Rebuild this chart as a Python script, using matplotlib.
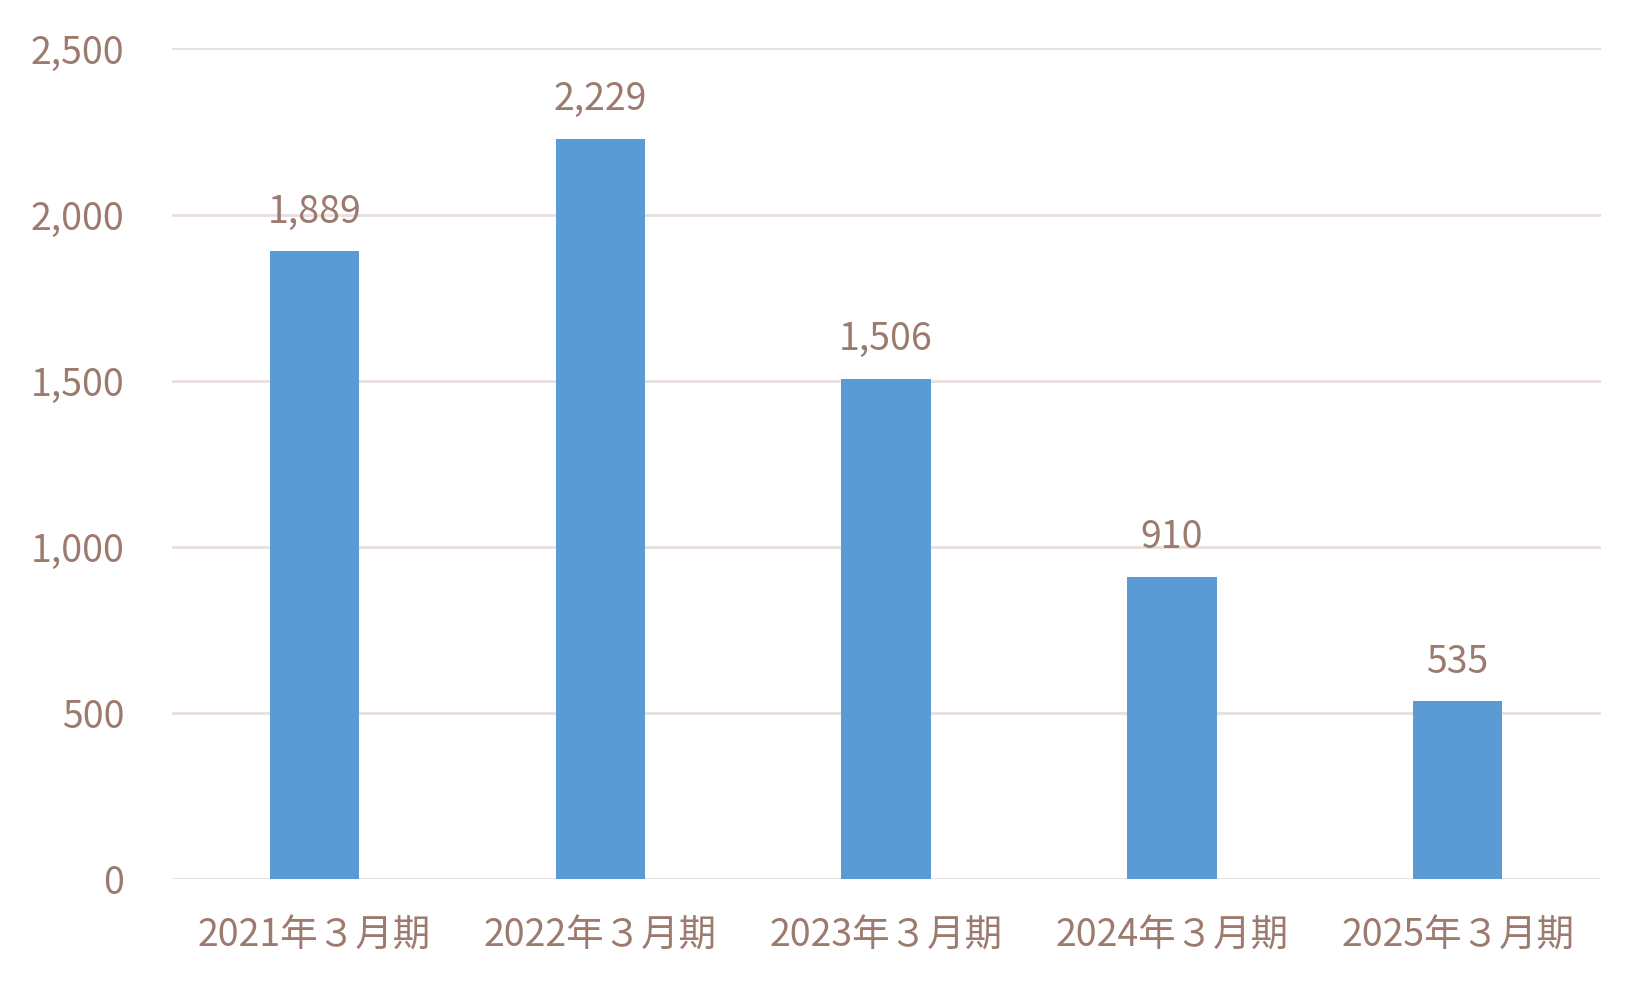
import matplotlib
matplotlib.use('Agg')
import matplotlib.pyplot as plt
from matplotlib.ticker import FuncFormatter

plt.rcParams['font.family'] = ['Noto Sans CJK JP', 'DejaVu Sans']

# data
periods = ['2021年３月期', '2022年３月期', '2023年３月期', '2024年３月期', '2025年３月期']
values = [1889, 2229, 1506, 910, 535]

text_color = '#9C7B6E'
bar_color = '#5B9BD5'
grid_color = '#E8DFDF'

fig = plt.figure(figsize=(16.5, 9.89), dpi=100)
ax = fig.add_axes([0.104, 0.111, 0.866, 0.840])

x = range(len(periods))
bars = ax.bar(x, values, width=0.313, color=bar_color, zorder=3)

# data labels above bars
for xi, v in zip(x, values):
    ax.annotate(f'{v:,}', (xi, v), xytext=(0, 14), textcoords='offset points',
                ha='center', va='bottom', fontsize=27, color=text_color)

ax.set_xlim(-0.5, len(periods) - 0.5)
ax.set_ylim(0, 2500)
ax.set_yticks([0, 500, 1000, 1500, 2000, 2500])
ax.yaxis.set_major_formatter(FuncFormatter(lambda v, p: f'{int(v):,}'))
ax.set_xticks(list(x))
ax.set_xticklabels(periods)

ax.grid(axis='y', color=grid_color, linewidth=2, zorder=0)
for s in ax.spines.values():
    s.set_visible(False)
ax.tick_params(axis='both', length=0, labelsize=27, labelcolor=text_color)
ax.tick_params(axis='y', pad=34)
ax.tick_params(axis='x', pad=27)
for lbl in ax.get_yticklabels():
    lbl.set_horizontalalignment('right')

fig.savefig('out.png', dpi=100)
